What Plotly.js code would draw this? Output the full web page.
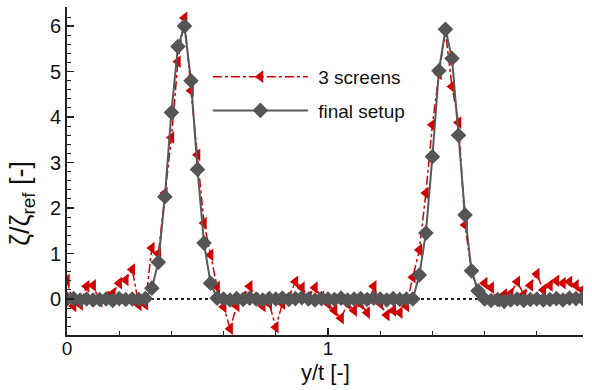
<!DOCTYPE html>
<html>
<head>
<meta charset="utf-8">
<script src="https://cdn.plot.ly/plotly-3.0.1.min.js"></script>
<style>html,body{margin:0;padding:0;background:#fff}#chart{width:592px;height:390px}</style>
</head>
<body>
<div id="chart"></div>
<script>
// y/t positions (step 0.025)
const yt = [];
for (let i = 0; i < 80; i++) yt.push(+(i * 0.025).toFixed(3));

const screens3 = [
  0.42, -0.15, -0.12, 0.28, 0.30, -0.05, 0.05, 0.12, 0.35, 0.42,
  0.65, -0.13, -0.12, 1.12, 1.00, 2.33, 3.55, 5.22, 6.18, 4.58,
  3.17, 1.67, 0.97, 0.27, -0.17, -0.65, -0.15, 0.05, 0.28, 0.00,
  -0.15, -0.10, -0.62, -0.10, 0.05, 0.38, 0.25, 0.05, 0.25, 0.05,
  -0.10, -0.25, -0.42, -0.10, -0.25, -0.10, -0.30, 0.28, -0.10, -0.35,
  -0.25, -0.30, -0.15, 0.48, 1.08, 2.33, 3.83, 4.95, 5.88, 4.67,
  3.88, 1.63, 0.60, 0.15, 0.35, 0.25, -0.05, 0.10, 0.12, 0.38,
  0.10, 0.30, 0.55, 0.20, 0.30, 0.40, 0.35, 0.38, 0.30, 0.20
];

const finalSetup = [
  0.00, 0.01, -0.02, 0.00, -0.02, -0.01, 0.00, -0.03, 0.01, -0.01,
  0.00, -0.01, 0.01, 0.24, 0.81, 2.25, 4.10, 5.55, 6.00, 4.80,
  2.85, 1.23, 0.35, 0.02, 0.00, -0.02, 0.01, -0.01, 0.02, 0.00,
  -0.02, 0.01, 0.00, 0.02, -0.01, 0.01, 0.03, 0.00, -0.02, 0.01,
  0.00, -0.01, 0.02, -0.02, 0.00, 0.01, -0.01, 0.02, 0.00, -0.02,
  0.01, -0.01, 0.00, 0.00, 0.53, 1.45, 3.13, 5.02, 5.93, 5.29,
  3.60, 1.85, 0.62, 0.18, 0.00, -0.03, -0.01, -0.05, -0.02, 0.00,
  -0.03, -0.01, 0.00, -0.02, -0.01, 0.01, -0.02, 0.02, 0.01, 0.02
];

const seriesNames = ['3 screens', 'final setup'];
const xTickVals = [0, 1];
const yTickVals = [0, 1, 2, 3, 4, 5, 6];
const xTitle = 'y/t [-]';
const yTitle = 'ζ/ζ<sub>ref</sub> [-]';

const font = 'Liberation Sans, Arial, sans-serif';
const NB = '\u00a0';

const traces = [
  {
    x: yt, y: screens3, name: NB + seriesNames[0], legendgroup: 'a',
    type: 'scatter', mode: 'lines+markers',
    line: {color: '#d40000', width: 1.5, dash: 'dashdot'},
    marker: {symbol: 'triangle-left', size: 11, color: '#d40000'}
  },
  {
    x: yt, y: finalSetup, name: NB + seriesNames[1], legendgroup: 'b',
    type: 'scatter', mode: 'lines+markers',
    line: {color: '#595959', width: 2},
    marker: {symbol: 'diamond', size: 12, color: '#555555'}
  }
];

const layout = {
  width: 592, height: 390,
  margin: {l: 67, r: 9, t: 7, b: 55},
  paper_bgcolor: '#fff', plot_bgcolor: '#fff',
  font: {family: font, size: 19, color: '#111'},
  showlegend: true,
  legend: {
    x: 0.273, y: 0.845, xanchor: 'left', yanchor: 'top',
    bgcolor: 'rgba(0,0,0,0)', itemwidth: 95,
    font: {family: font, size: 19, color: '#111'},
    tracegroupgap: 6
  },
  xaxis: {
    range: [0, 1.977], showline: true, linecolor: '#222', linewidth: 2,
    showgrid: false, zeroline: false,
    tickmode: 'array', tickvals: xTickVals, ticktext: xTickVals.map(String),
    ticks: 'inside', ticklen: 7, tickwidth: 1.5, tickcolor: '#222',
    ticklabelstandoff: -5,
    minor: {dtick: 0.2, tick0: 0, ticks: 'inside', ticklen: 4, tickcolor: '#222', tickwidth: 1},
    tickfont: {family: font, size: 19, color: '#111'}
  },
  yaxis: {
    range: [-0.79, 6.42], showline: true, linecolor: '#222', linewidth: 2,
    showgrid: false, zeroline: false,
    tickmode: 'array', tickvals: yTickVals, ticktext: yTickVals.map(String),
    ticks: 'inside', ticklen: 7, tickwidth: 1.5, tickcolor: '#222',
    minor: {dtick: 0.2, tick0: 0, ticks: 'inside', ticklen: 4, tickcolor: '#222', tickwidth: 1},
    tickfont: {family: font, size: 20, color: '#111'}
  },
  annotations: [
    {
      text: yTitle, xref: 'paper', yref: 'paper', x: -0.087, y: 0.40,
      xanchor: 'center', yanchor: 'middle', textangle: -90, showarrow: false,
      font: {family: font, size: 27, color: '#111'}
    },
    {
      text: xTitle, xref: 'paper', yref: 'paper', x: 0.5, y: -0.113,
      xanchor: 'center', yanchor: 'middle', showarrow: false, borderpad: 0,
      font: {family: font, size: 22, color: '#111'}
    }
  ],
  shapes: [{
    type: 'line', xref: 'paper', yref: 'y', x0: 0, x1: 1, y0: 0, y1: 0,
    line: {color: '#222', width: 2, dash: 'dot'}, layer: 'below'
  }]
};

Plotly.newPlot('chart', traces, layout, {displayModeBar: false, staticPlot: true});
</script>
</body>
</html>
